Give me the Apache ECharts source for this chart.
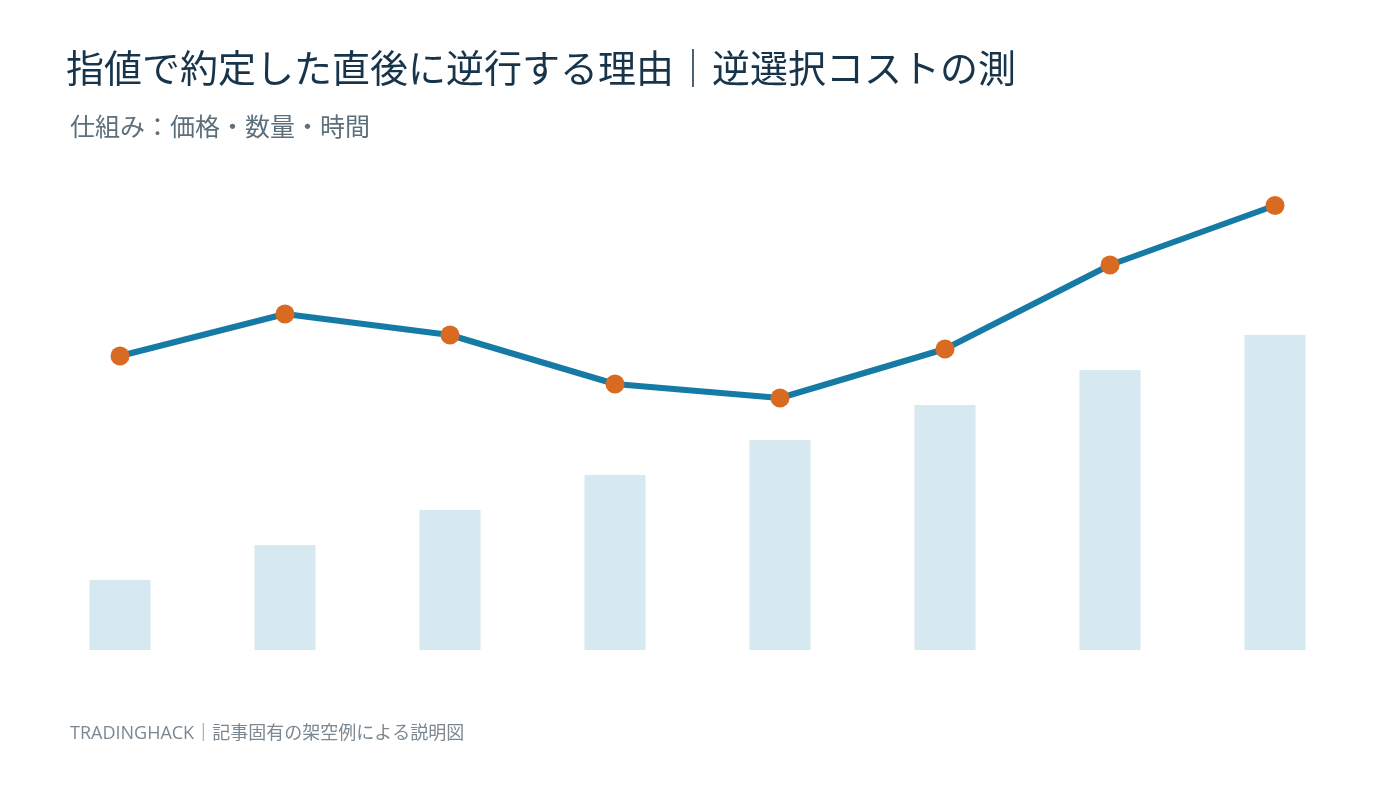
<!DOCTYPE html>
<html>
<head>
<meta charset="utf-8">
<script src="https://cdn.jsdelivr.net/npm/echarts@6/dist/echarts.min.js"></script>
<style>
html,body{margin:0;padding:0;background:#fff;}
#c{width:1400px;height:788px;}
</style>
</head>
<body>
<div id="c"></div>
<script>
const categories = ['1', '2', '3', '4', '5', '6', '7', '8'];
const barValues = [2, 3, 4, 5, 6, 7, 8, 9];
const lineValues = [8.4, 9.6, 9.0, 7.6, 7.2, 8.6, 11.0, 12.7];
const titleText = '指値で約定した直後に逆行する理由｜逆選択コストの測';
const subtitleText = '仕組み：価格・数量・時間';
const footerText = 'TRADINGHACK｜記事固有の架空例による説明図';

const chart = echarts.init(document.getElementById('c'));
const font = '"Noto Sans CJK JP", "Noto Sans", sans-serif';
const footFont = '"Open Sans", "Noto Sans CJK JP", sans-serif';
chart.setOption({
  backgroundColor: '#ffffff',
  animation: false,
  title: [
    { text: titleText, left: 61, top: 44, textStyle: { fontFamily: font, fontSize: 38, fontWeight: 'normal', color: '#17344a' } },
    { text: subtitleText, left: 65, top: 109, textStyle: { fontFamily: font, fontSize: 25, fontWeight: 'normal', color: '#5d6f7b' } },
    { text: footerText, left: 65, top: 720, textStyle: { fontFamily: footFont, fontSize: 18, fontWeight: 'normal', color: '#7b8891' } }
  ],
  grid: { left: 37.5, right: 42.5, top: 160, bottom: 138 },
  xAxis: {
    type: 'category', data: categories,
    axisLine: { show: false }, axisTick: { show: false }, axisLabel: { show: false }, splitLine: { show: false }
  },
  yAxis: {
    type: 'value', min: 0, max: 14,
    axisLine: { show: false }, axisTick: { show: false }, axisLabel: { show: false }, splitLine: { show: false }
  },
  series: [
    {
      type: 'bar', data: barValues, barWidth: 61,
      itemStyle: { color: '#d6e9f1' }, silent: true
    },
    {
      type: 'line', data: lineValues,
      lineStyle: { color: '#157ba5', width: 6 },
      symbol: 'circle', symbolSize: 19,
      itemStyle: { color: '#d96a22' }
    }
  ]
});
</script>
</body>
</html>
